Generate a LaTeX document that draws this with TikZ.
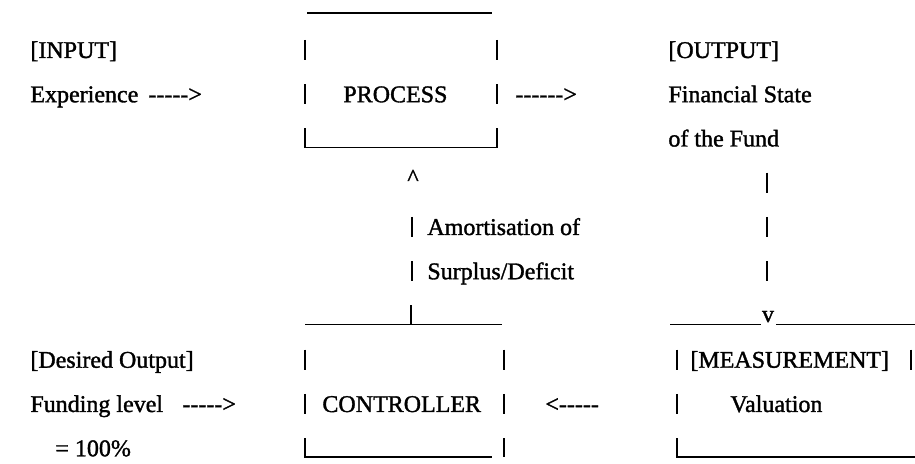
\documentclass[tikz,border=0pt]{standalone}
\usepackage{fontspec}
\setmainfont{Liberation Serif}[FakeBold=1.4]
\newcommand\dsh[1]{\foreach\k in {1,...,#1}{\mbox{-}}}
\tikzset{
  txt/.style={anchor=base west, inner sep=0pt, font=\fontsize{12}{14}\selectfont},
  bar/.style={line width=0.9pt}
}
\begin{document}
\begin{tikzpicture}[x=0.5pt,y=-0.5pt]
	\useasboundingbox (0,0) rectangle (915,464);
	% left column
	\node[txt] (input) at (30,58) {[INPUT]};
	\node[txt] (exper) at (30,102.25) {Experience};
	\node[txt] (inarr) at (148,102.25) {\dsh{5}>};
	\node[txt] (desired) at (30,367.75) {[Desired Output]};
	\node[txt] (funding) at (30,412) {Funding level};
	\node[txt] (refarr) at (182,412) {\dsh{5}>};
	\node[txt] (target) at (55,456.25) {= 100\%};
	% process
	\node[txt] (process) at (343,102.25) {PROCESS};
	\node[txt] (outarr) at (515,102.25) {\dsh{6}>};
	\draw[bar] (307,13) -- (492,13);
	\foreach \x/\y in {305/50,497/50,305/94.25,497/94.25}
		\draw[bar] (\x,\y-10) -- (\x,\y+10);
	\draw[bar] (305,128.5) -- (305,147.5) -- (497,147.5) -- (497,128.5);
	% output
	\node[txt] (output) at (668,58) {[OUTPUT]};
	\node[txt] (state) at (668,102.25) {Financial State};
	\node[txt] (fund) at (668,146.5) {of the Fund};
	% feedback path
	\node[txt,anchor=base] (up) at (413,185.5) {\textasciicircum};
	\node[txt] (amort) at (427,235) {Amortisation of};
	\node[txt] (surplus) at (427,279.25) {Surplus/Deficit};
	\foreach \y in {227,271.25}
		\draw[bar] (412,\y-10) -- (412,\y+10);
	\foreach \y in {182.75,227,271.25}
		\draw[bar] (767,\y-10) -- (767,\y+10);
	\node[txt,anchor=base] (down) at (768,322) {v};
	% controller
	\node[txt] (ctrl) at (322,412) {CONTROLLER};
	\node[txt] (fbarr) at (545,412) {<\dsh{5}};
	\draw[bar] (305,324.5) -- (502,324.5);
	\draw[bar] (411,305.5) -- (411,324.5);
	\foreach \x/\y in {305/359.75,504/359.75,305/404,504/404}
		\draw[bar] (\x,\y-10) -- (\x,\y+10);
	\draw[bar] (305,438.25) -- (305,457.25) -- (492,457.25);
	\draw[bar] (504,438.25) -- (504,457.25);
	% measurement
	\node[txt] (meas) at (690,367.75) {[MEASUREMENT]};
	\node[txt] (valu) at (730,412) {Valuation};
	\draw[bar] (670,324.5) -- (761,324.5);
	\draw[bar] (776,324.5) -- (915,324.5);
	\foreach \x/\y in {677/359.75,911/359.75,677/404}
		\draw[bar] (\x,\y-10) -- (\x,\y+10);
	\draw[bar] (677,438.25) -- (677,457.25) -- (915,457.25);
\end{tikzpicture}
\end{document}
